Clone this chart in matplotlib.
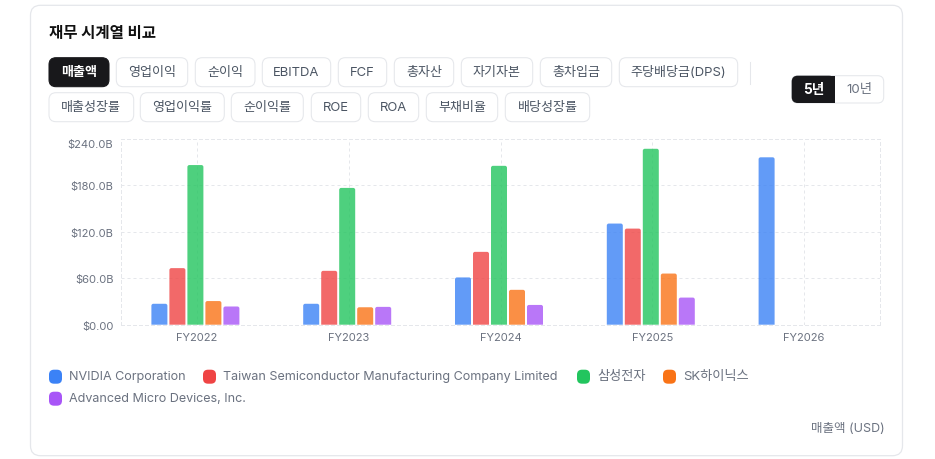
import numpy as np
from matplotlib import pyplot as plt
from matplotlib.patches import FancyBboxPatch, PathPatch, Rectangle
from matplotlib.path import Path

plt.rcParams['font.family'] = ['Inter', 'Noto Sans CJK KR', 'DejaVu Sans']

# data, billions of USD
years = ['FY2022', 'FY2023', 'FY2024', 'FY2025', 'FY2026']
nvidia = [27.0, 27.0, 61.0, 130.5, 216.0]
tsmc = [73.0, 69.5, 94.0, 124.0, np.nan]
samsung = [206.0, 176.5, 205.0, 227.0, np.nan]
hynix = [30.5, 22.5, 45.0, 66.0, np.nan]
amd = [23.5, 23.0, 25.5, 35.0, np.nan]
y_ticks = [0, 60, 120, 180, 240]
y_tick_labels = ['$0.00', '$60.0B', '$120.0B', '$180.0B', '$240.0B']

company_names = ['NVIDIA Corporation', 'Taiwan Semiconductor Manufacturing Company Limited',
                 '삼성전자', 'SK하이닉스', 'Advanced Micro Devices, Inc.']
metric_row1 = ['매출액', '영업이익', '순이익', 'EBITDA', 'FCF', '총자산', '자기자본', '총차입금', '주당배당금(DPS)']
metric_row2 = ['매출성장률', '영업이익률', '순이익률', 'ROE', 'ROA', '부채비율', '배당성장률']

colors = ['#3b82f6', '#ef4444', '#22c55e', '#f97316', '#a855f7']

# pill edges in pixels
row1_edges = [(49, 109), (116.3, 187.7), (195.3, 255), (262.3, 330.7), (338.3, 386.7),
              (394.3, 453.7), (461.3, 532.7), (540.3, 611.7), (619.3, 737.7)]
row2_edges = [(49, 133.7), (140.3, 224.3), (231.3, 303.3), (311.3, 360.7), (368.3, 418.7),
              (426.3, 497.7), (505.3, 589.7)]
legend_pos = [(49, 377), (203, 377), (577, 377), (663, 377), (49, 399)]
legend_sizes = [9.05, 9.05, 9.5, 9.5, 9.05]

W, H = 935, 460
SHIFT = 0.7  # the page axes sits this many pixels low to match the reference rows
BORDER = '#e5e7eb'
TEXT = '#4b5563'
MUTED = '#6b7280'
DARK = '#18181b'


def rounded(ax, x0, y0, x1, y1, r, **kw):
    """Rounded box in pixel coordinates of the page axes"""
    box = FancyBboxPatch((x0, y0), x1 - x0, y1 - y0,
                         boxstyle=f"round,pad=0,rounding_size={r}", **kw)
    ax.add_patch(box)
    return box


def round_top(ax, bar, rx, ry):
    """Swap a bar rectangle for a copy with rounded top corners"""
    x0, x1 = bar.get_x(), bar.get_x() + bar.get_width()
    top = bar.get_height()
    verts = [(x0, 0), (x0, top - ry), (x0, top), (x0 + rx, top),
             (x1 - rx, top), (x1, top), (x1, top - ry), (x1, 0), (x0, 0)]
    codes = [Path.MOVETO, Path.LINETO, Path.CURVE3, Path.CURVE3,
             Path.LINETO, Path.CURVE3, Path.CURVE3, Path.LINETO, Path.CLOSEPOLY]
    patch = PathPatch(Path(verts, codes), facecolor=bar.get_facecolor(), edgecolor='none', zorder=3)
    ax.add_patch(patch)
    bar.remove()


def draw_page(page):
    rounded(page, 30.5, 5.6, 902.5, 456, 10, facecolor='white', edgecolor=BORDER, linewidth=0.9)
    page.text(49, 32.5, '재무 시계열 비교', fontsize=11.2, fontweight='bold', color='#111111',
              va='center', ha='left')

    for labels, edges, y0, y1 in ((metric_row1, row1_edges, 58, 87), (metric_row2, row2_edges, 93, 122)):
        for label, (x0, x1) in zip(labels, edges):
            active = label == '매출액'
            rounded(page, x0, y0, x1, y1, 7,
                    facecolor=DARK if active else 'white',
                    edgecolor=DARK if active else BORDER, linewidth=0.75)
            page.text((x0 + x1) / 2, (y0 + y1) / 2 - 0.5, label, fontsize=9.4, ha='center', va='center',
                      color='white' if active else TEXT, fontweight='bold' if active else 'normal')

    # separator between the metric pills and the period switch
    page.plot([749.5, 749.5], [62, 84], color=BORDER, lw=0.75)

    rounded(page, 791.7, 76, 883.7, 103.3, 6, facecolor='white', edgecolor=BORDER, linewidth=0.75)
    active = rounded(page, 791.7, 76, 835, 103.3, 6, facecolor=DARK, edgecolor='none')
    page.add_patch(Rectangle((825, 76), 10, 27.3, facecolor=DARK, edgecolor='none'))
    active.set_zorder(2)
    page.text(813.5, 89, '5년', fontsize=9.8, fontweight='bold', color='white', ha='center', va='center', zorder=3)
    page.text(859, 89, '10년', fontsize=9.6, color=MUTED, ha='center', va='center')

    for name, color, size, (x, y) in zip(company_names, colors, legend_sizes, legend_pos):
        rounded(page, x, y - 7, x + 13, y + 7, 5, facecolor=color, edgecolor='none')
        page.text(x + 20, y - 0.5, name, fontsize=size, color=MUTED, ha='left', va='center')

    page.text(885, 428.5, '매출액 (USD)', fontsize=9.0, color=MUTED, ha='right', va='center')


def draw_chart(ax):
    series = [nvidia, tsmc, samsung, hynix, amd]
    px = 1 / 151.8  # one pixel in category units
    positions = np.arange(len(years))

    for i, (values, color) in enumerate(zip(series, colors)):
        offset = (i - 2) * 18 * px - 1.5 * px
        bars = ax.bar(positions + offset, values, width=16 * px, color=color, alpha=0.8)
        for bar in list(bars):
            if not np.isnan(bar.get_height()):
                round_top(ax, bar, 2 * px, 2 * 60 / 46.5)
                ax.patches[-1].set_alpha(0.8)
            else:
                bar.remove()

    ax.set_xlim(-0.5, 4.5)
    ax.set_ylim(0, 240)
    ax.set_xticks(positions, years)
    ax.set_yticks(y_ticks, y_tick_labels)
    ax.tick_params(length=0, labelsize=8.0, labelcolor=MUTED)
    ax.tick_params(axis='x', pad=5.5)
    ax.tick_params(axis='y', pad=5.5)
    ax.get_yticklabels()[-1].set_verticalalignment('top')

    ax.grid(True, color='#e5e7eb', lw=0.72, linestyle=(0, (3, 3)), zorder=0)
    ax.set_axisbelow(True)
    for spine in ax.spines.values():
        spine.set_color('#e5e7eb')
        spine.set_linewidth(0.72)
        spine.set_linestyle((0, (3, 3)))
    ax.patch.set_alpha(0)


def main():
    fig = plt.figure(figsize=(W / 100, H / 100), dpi=100, facecolor='white')

    page = fig.add_axes([0, 0, 1, 1])
    page.set_xlim(0, W)
    page.set_ylim(H - SHIFT, -SHIFT)
    page.axis('off')
    draw_page(page)

    ax = fig.add_axes([121 / W, 1 - (325 + SHIFT) / H, (880 - 121) / W, (325 - 139) / H])
    draw_chart(ax)

    fig.savefig('out.png', dpi=100)


if __name__ == "__main__":
    main()
